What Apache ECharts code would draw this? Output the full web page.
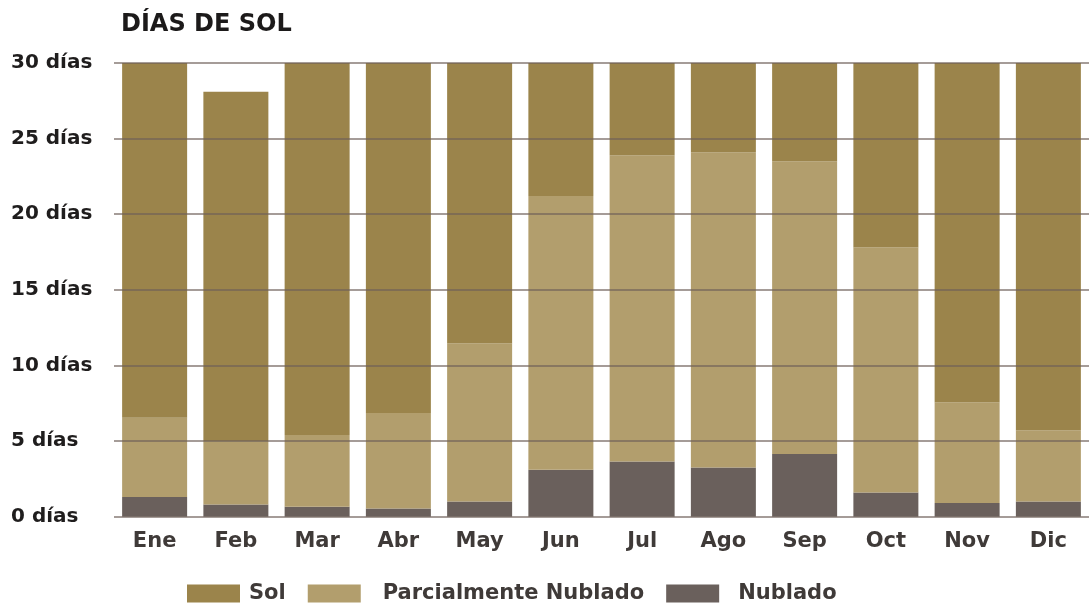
<!DOCTYPE html>
<html>
<head>
<meta charset="utf-8">
<script src="https://cdn.jsdelivr.net/npm/echarts@6/dist/echarts.min.js"></script>
<style>
html,body{margin:0;padding:0;background:#fff;}
#chart{width:1089px;height:608px;}
</style>
</head>
<body>
<div id="chart"></div>
<script>
const months = ['Ene','Feb','Mar','Abr','May','Jun','Jul','Ago','Sep','Oct','Nov','Dic'];
const nublado = [1.3, 0.8, 0.65, 0.55, 1.0, 3.1, 3.65, 3.25, 4.15, 1.6, 0.9, 1.0];
const parcial = [5.25, 4.15, 4.75, 6.3, 10.45, 18.1, 20.25, 20.85, 19.35, 16.2, 6.65, 4.7];
const sol = [23.45, 23.15, 24.6, 23.15, 18.55, 8.8, 6.1, 5.9, 6.5, 12.2, 22.45, 24.3];
const yTicks = { min: 0, max: 30, interval: 5 };
const seriesNames = ['Sol', 'Parcialmente Nublado', 'Nublado'];

const FONT = '"DejaVu Sans", sans-serif';
const chart = echarts.init(document.getElementById('chart'), null, {renderer: 'canvas'});
chart.setOption({
  animation: false,
  backgroundColor: '#ffffff',
  title: {
    text: 'DÍAS DE SOL',
    left: 116, top: 8,
    textStyle: {fontFamily: FONT, fontWeight: 'bold', fontSize: 24, color: '#1c1a1a'}
  },
  legend: {
    left: 182, top: 578,
    itemWidth: 53, itemHeight: 18, itemGap: 22,
    icon: 'rect',
    textStyle: {fontFamily: FONT, fontWeight: 'bold', fontSize: 21, color: '#3f3a38'},
    data: [
      {name: seriesNames[0], textStyle: {padding: [0, 0, 0, 4]}},
      {name: seriesNames[1], textStyle: {padding: [0, 14, 0, 17]}},
      {name: seriesNames[2], textStyle: {padding: [0, 0, 0, 14]}}
    ]
  },
  grid: {left: 114, top: 63, width: 980, height: 453.7, containLabel: false},
  xAxis: {
    type: 'category',
    data: months,
    axisLine: {show: false},
    axisTick: {show: false},
    axisLabel: {fontFamily: FONT, fontWeight: 'bold', fontSize: 21, color: '#3f3a38', margin: 14}
  },
  yAxis: {
    type: 'value',
    min: yTicks.min, max: yTicks.max, interval: yTicks.interval,
    z: 10,
    axisLine: {show: false},
    axisTick: {show: false},
    splitLine: {lineStyle: {color: 'rgba(110,96,88,0.62)', width: 2}},
    axisLabel: {
      formatter: '{value} días',
      align: 'left', margin: 103,
      fontFamily: FONT, fontWeight: 'bold', fontSize: 20, color: '#1f1d1d',
      padding: [0, 0, 6, 0]
    }
  },
  series: [
    {name: seriesNames[2], type: 'bar', stack: 't', data: nublado, barCategoryGap: '20%', itemStyle: {color: '#6a605c', borderWidth: 0}},
    {name: seriesNames[1], type: 'bar', stack: 't', data: parcial, itemStyle: {color: '#b29e6d', borderWidth: 0}},
    {name: seriesNames[0], type: 'bar', stack: 't', data: sol, itemStyle: {color: '#9b844b', borderWidth: 0}}
  ]
});
</script>
</body>
</html>
